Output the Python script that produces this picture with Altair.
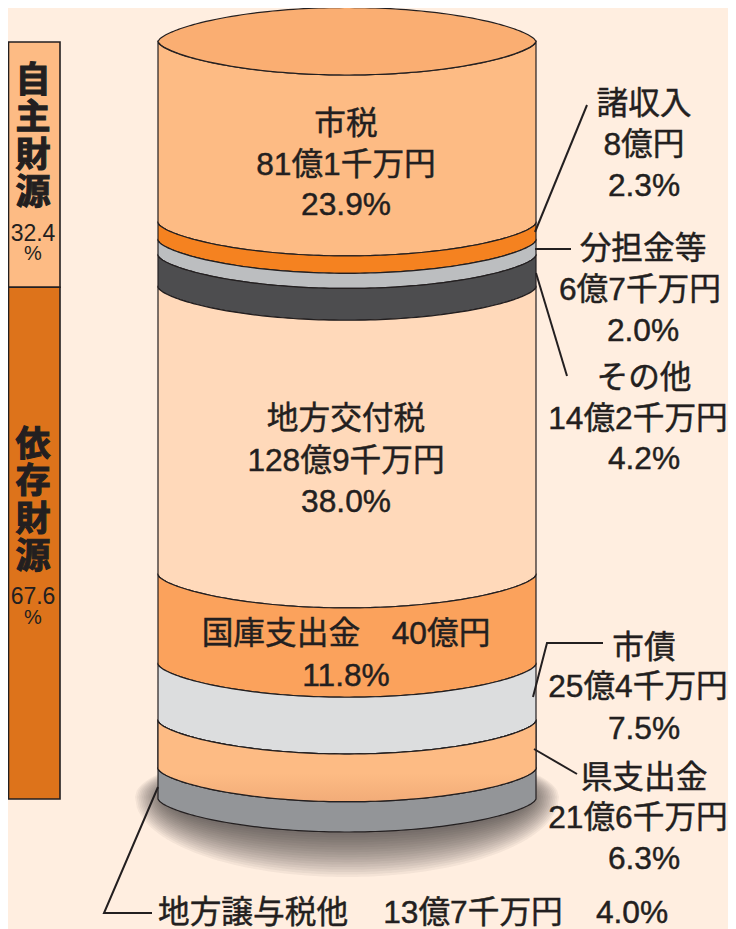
import altair as alt
import numpy as np
import pandas as pd

# ---- data -----------------------------------------------------------
categories = ["市税", "諸収入", "分担金等", "その他", "地方交付税", "国庫支出金", "市債", "県支出金", "地方譲与税他"]
shares = [23.9, 2.3, 2.0, 4.2, 38.0, 11.8, 7.5, 6.3, 4.0]
band_colors = ["#FDBB84", "#F58220", "#BCBEC0", "#4D4D4F", "#FFD9BA", "#FBA25C", "#DCDDDE", "#FDBB84", "#939598"]
group_names = ["自主財源", "依存財源"]
group_shares = [32.4, 67.6]
group_labels = ["32.4", "67.6"]
group_colors = ["#FDBB84", "#DD731B"]

# labels: text, x, y (image pixels of the label centre)
label_text = ["市税", "81億1千万円", "23.9%",
              "諸収入", "8億円", "2.3%",
              "分担金等", "6億7千万円", "2.0%",
              "その他", "14億2千万円", "4.2%",
              "地方交付税", "128億9千万円", "38.0%",
              "国庫支出金　40億円", "11.8%",
              "市債", "25億4千万円", "7.5%",
              "県支出金", "21億6千万円", "6.3%",
              "地方譲与税他", "13億7千万円", "4.0%"]
label_x = [346, 346, 346, 644, 644, 644, 643, 640, 643, 644, 638, 644,
           346, 346, 346, 346, 346, 644, 638, 644, 644, 638, 644, 253, 473, 632]
label_y = [124, 165, 205, 104, 145, 186, 249, 290, 331, 378, 419, 459,
           419, 461, 502, 634, 676, 648, 687, 729, 778, 818, 859, 913, 913, 913]

leader_id = [0, 0, 1, 1, 2, 2, 3, 3, 3, 4, 4, 5, 5, 5]
leader_x = [587, 535, 535, 571, 536, 567, 533, 547, 603, 534, 577, 158, 104, 152]
leader_y = [105, 232, 249, 249, 273, 376, 697, 643, 643, 749, 774, 787, 913, 913]

INK = "#231F20"
BG = "#FFEEE0"
FONT = "Liberation Sans, Noto Sans CJK JP"

TOP_PX = 42.0
PX_PER_PCT = 7.57
def pct(px):
    return (np.asarray(px, dtype=float) - TOP_PX) / PX_PER_PCT

W, H = 720, 921
X = alt.Scale(domain=[8, 728], range=[0, W], nice=False, zero=False)
Y = alt.Scale(domain=[float(pct(8)), float(pct(929))], range=[0, H], nice=False, zero=False)
def xe(f): return alt.X(f, type="quantitative", scale=X, axis=None, title=None)
def ye(f): return alt.Y(f, type="quantitative", scale=Y, axis=None, title=None)
def y2e(f): return alt.Y2(f)
def x2e(f): return alt.X2(f)

CX, RX = 347.0, 189.0
u = np.concatenate([np.linspace(-1, -0.8, 25), np.linspace(-0.8, 0.8, 60)[1:-1], np.linspace(0.8, 1, 25)])
lens = (1 - u ** 2) ** 0.65
SAG = 33 / PX_PER_PCT

edges = np.concatenate([[0], np.cumsum(shares)])
rows = []
for i, c in enumerate(categories):
    for a, f in zip(u, lens):
        rows.append(dict(band=c, x=CX + RX * a, y=edges[i] + SAG * f, y2=edges[i + 1] + SAG * f))
bands = pd.DataFrame(rows)

stroke = dict(stroke=INK, strokeWidth=1.2, orient="vertical", interpolate="linear", opacity=1)

band_layer = alt.Chart(bands).mark_area(**stroke).encode(
    x=xe("x"), y=ye("y"), y2=y2e("y2"),
    color=alt.Color("band:N", scale=alt.Scale(domain=categories, range=band_colors), legend=None),
)

shade = alt.Gradient(gradient="linear", x1=0, x2=0, y1=0, y2=1,
                     stops=[alt.GradientStop(offset=0, color="#FDBB84"),
                            alt.GradientStop(offset=0.65, color="#FDBB84"),
                            alt.GradientStop(offset=1, color="#F2AC78")])
shade_layer = alt.Chart(bands[bands.band == "県支出金"]).mark_area(fill=shade, **stroke).encode(
    x=xe("x"), y=ye("y"), y2=y2e("y2"))

top = pd.DataFrame(dict(x=CX + RX * u, y=pct(41.5) - 34 / PX_PER_PCT * lens, y2=pct(41.5) + 33.5 / PX_PER_PCT * lens))
top_layer = alt.Chart(top).mark_area(fill="#FAAE72", **stroke).encode(x=xe("x"), y=ye("y"), y2=y2e("y2"))

# soft shadow under the cylinder: stack of translucent blobs
srows = []
N = 22
for k in range(N):
    t = k / (N - 1)
    rx = 212 - 37 * t
    ry_b = 80 - 52 * t
    ry_t = 50 - 15 * t
    e = (1 - u ** 2) ** 0.5
    for a, f in zip(u, e):
        srows.append(dict(k=k, x=CX + rx * a, y=float(pct(797 - ry_t * f)), y2=float(pct(797 + ry_b * f))))
shadow = alt.Chart(pd.DataFrame(srows)).mark_area(fill="#2A2320", opacity=0.05, orient="vertical").encode(
    x=xe("x"), y=ye("y"), y2=y2e("y2"), detail="k:N")

# side columns
gedges = np.concatenate([[0], np.cumsum(group_shares)])
side = pd.DataFrame(dict(name=group_names, y=gedges[:-1], y2=gedges[1:], x=[8.5] * 2, x2=[60] * 2))
side_layer = alt.Chart(side).mark_rect(stroke=INK, strokeWidth=1.6).encode(
    x=xe("x"), x2=x2e("x2"), y=ye("y"), y2=y2e("y2"),
    color=alt.Color("name:N", scale=alt.Scale(domain=group_names, range=group_colors), legend=None),
)

char_y = [[81, 118, 156, 193], [445, 482, 520, 557]]
chars = pd.DataFrame([dict(t=ch, x=33, y=float(pct(py))) for n, ys in zip(group_names, char_y) for ch, py in zip(n, ys)])
char_layer = alt.Chart(chars).mark_text(font="Noto Sans CJK JP", fontWeight="bold", fontSize=35, color=INK,
                                        stroke=INK, strokeWidth=1.1, baseline="middle").encode(
    x=xe("x"), y=ye("y"), text="t:N")

nums = pd.DataFrame(dict(t=group_labels, x=[33, 33], y=pct([234, 597])))
num_layer = alt.Chart(nums).mark_text(font=FONT, fontSize=23, color=INK, baseline="middle").encode(
    x=xe("x"), y=ye("y"), text="t:N")
pcs = pd.DataFrame(dict(t=["%", "%"], x=[33, 33], y=pct([254, 618])))
pc_layer = alt.Chart(pcs).mark_text(font=FONT, fontSize=20, color=INK, baseline="middle").encode(
    x=xe("x"), y=ye("y"), text="t:N")

labels = pd.DataFrame(dict(t=label_text, x=label_x, y=pct(label_y)))
label_layer = alt.Chart(labels).mark_text(font=FONT, fontSize=31.7, fontWeight=400, color=INK,
                                          stroke=INK, strokeWidth=0.45, baseline="middle").encode(
    x=xe("x"), y=ye("y"), text="t:N")

leaders = pd.DataFrame(dict(i=leader_id, o=range(len(leader_id)), x=leader_x, y=pct(leader_y)))
leader_layer = alt.Chart(leaders).mark_line(color=INK, strokeWidth=2).encode(
    x=xe("x"), y=ye("y"), detail="i:N", order="o:Q")

chart = alt.layer(shadow, band_layer, shade_layer, top_layer, side_layer, leader_layer,
                  char_layer, num_layer, pc_layer, label_layer).resolve_scale(color="independent").properties(
    width=W, height=H, background=BG, padding=0, autosize=alt.AutoSizeParams(type="none"),
).configure_view(stroke=None)

chart.save("out.html", embed_options={"renderer": "svg", "actions": False})
